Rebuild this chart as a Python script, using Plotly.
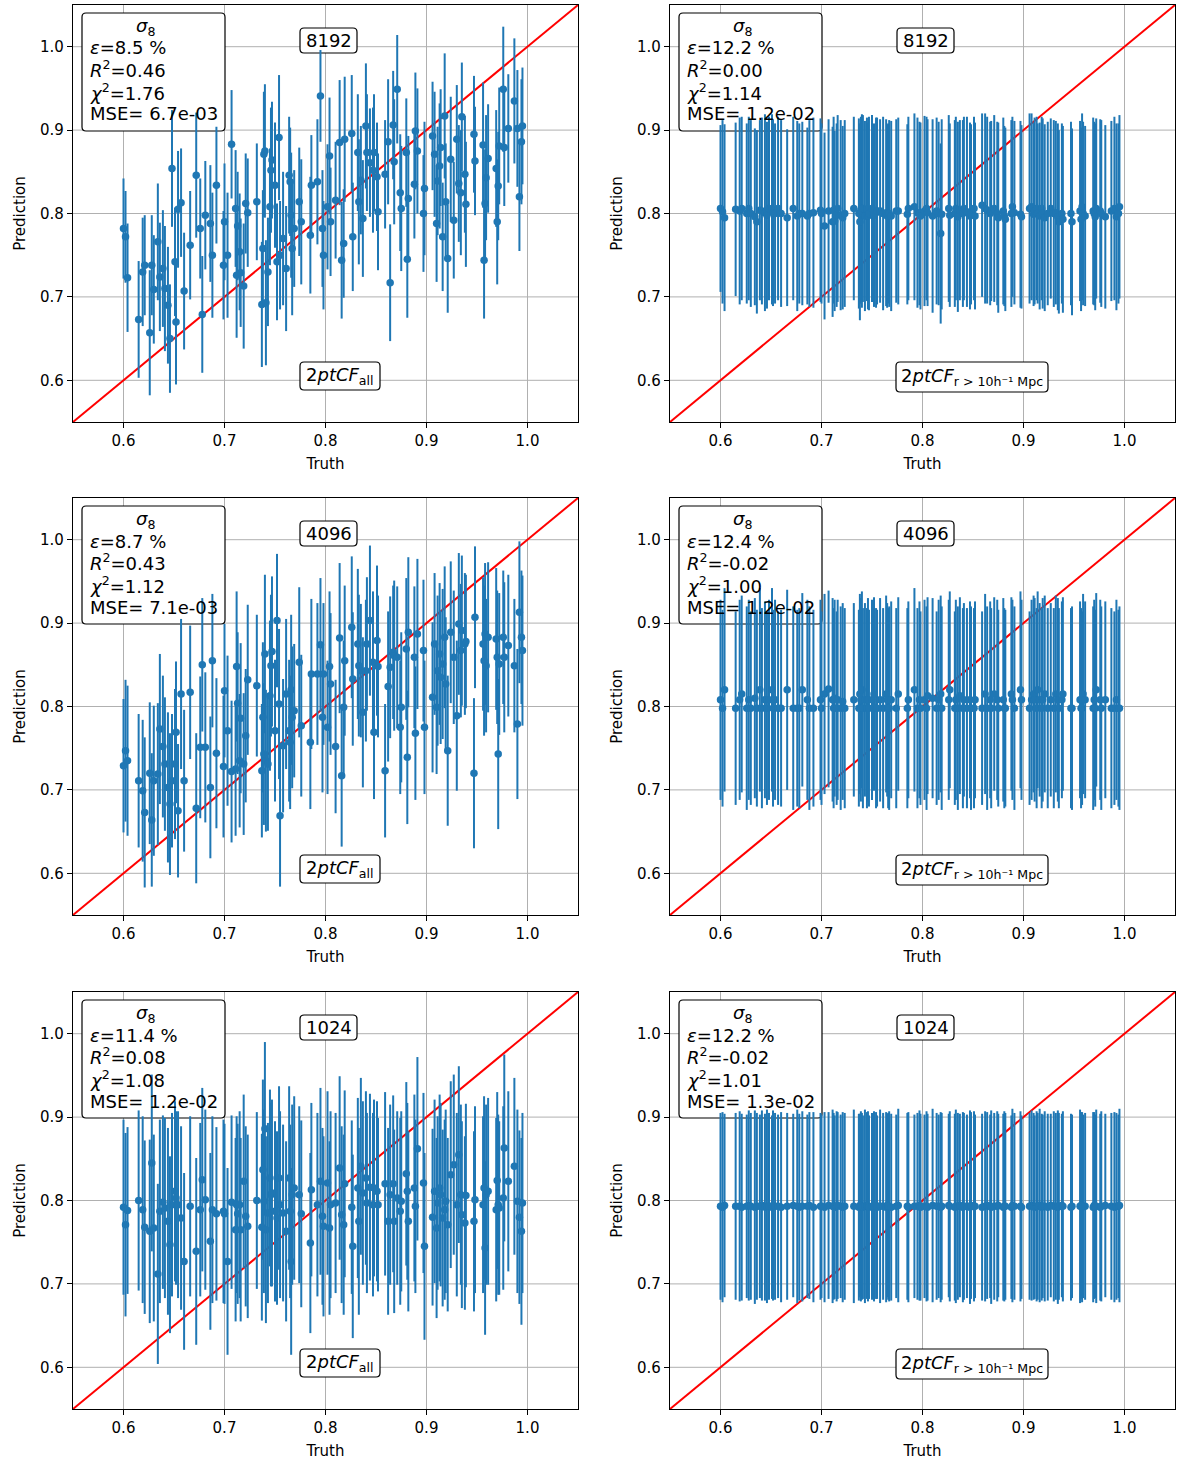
import plotly.graph_objects as go

# ---------------- data ----------------
truth = [
    0.600, 0.602, 0.604, 0.615, 0.619, 0.621, 0.626, 0.628, 0.630, 0.634,
    0.636, 0.639, 0.641, 0.644, 0.646, 0.648, 0.651, 0.652, 0.654, 0.657,
    0.660, 0.666, 0.672, 0.676, 0.678, 0.681, 0.686, 0.688, 0.692, 0.699,
    0.700, 0.703, 0.707, 0.711, 0.712, 0.713, 0.715, 0.716, 0.719, 0.721,
    0.723, 0.732, 0.737, 0.738, 0.739, 0.740, 0.741, 0.743, 0.745, 0.746,
    0.747, 0.750, 0.752, 0.754, 0.755, 0.758, 0.761, 0.764, 0.765, 0.766,
    0.767, 0.769, 0.774, 0.776, 0.785, 0.786, 0.792, 0.795, 0.797, 0.798,
    0.802, 0.804, 0.805, 0.810, 0.814, 0.816, 0.818, 0.819, 0.826, 0.827,
    0.832, 0.833, 0.835, 0.837, 0.840, 0.841, 0.844, 0.847, 0.848, 0.851,
    0.852, 0.859, 0.862, 0.864, 0.867, 0.868, 0.871, 0.874, 0.875, 0.880,
    0.881, 0.882, 0.888, 0.889, 0.891, 0.897, 0.898, 0.906, 0.908, 0.910,
    0.911, 0.913, 0.914, 0.916, 0.918, 0.919, 0.921, 0.924, 0.927, 0.930,
    0.932, 0.934, 0.935, 0.938, 0.939, 0.947, 0.948, 0.956, 0.957, 0.958,
    0.959, 0.961, 0.969, 0.970, 0.971, 0.972, 0.976, 0.977, 0.981, 0.987,
    0.990, 0.992, 0.994, 0.995,
]

pred_8192_all = [
    0.782, 0.772, 0.723, 0.673, 0.730, 0.738, 0.657, 0.738, 0.709, 0.766,
    0.724, 0.734, 0.710, 0.690, 0.650, 0.854, 0.742, 0.670, 0.805, 0.813,
    0.707, 0.762, 0.846, 0.782, 0.679, 0.798, 0.788, 0.750, 0.834, 0.738,
    0.790, 0.750, 0.883, 0.806, 0.726, 0.785, 0.754, 0.729, 0.713, 0.812,
    0.801, 0.814, 0.691, 0.758, 0.871, 0.875, 0.693, 0.730, 0.808, 0.852,
    0.864, 0.834, 0.742, 0.891, 0.750, 0.770, 0.734, 0.846, 0.838, 0.798,
    0.758, 0.782, 0.814, 0.790, 0.774, 0.834, 0.838, 0.941, 0.782, 0.750,
    0.808, 0.869, 0.790, 0.816, 0.885, 0.744, 0.764, 0.889, 0.896, 0.772,
    0.873, 0.814, 0.840, 0.794, 0.905, 0.873, 0.861, 0.852, 0.873, 0.844,
    0.802, 0.847, 0.886, 0.717, 0.906, 0.862, 0.949, 0.825, 0.806, 0.873,
    0.745, 0.818, 0.835, 0.899, 0.875, 0.800, 0.830, 0.893, 0.871, 0.788,
    0.839, 0.857, 0.879, 0.772, 0.917, 0.814, 0.746, 0.865, 0.792, 0.889,
    0.836, 0.825, 0.916, 0.847, 0.811, 0.895, 0.863, 0.882, 0.744, 0.812,
    0.843, 0.866, 0.854, 0.790, 0.833, 0.881, 0.949, 0.879, 0.902, 0.935,
    0.902, 0.820, 0.886, 0.905,
]
err_8192_all = [
    0.060, 0.055, 0.065, 0.070, 0.065, 0.060, 0.075, 0.060, 0.065, 0.070,
    0.065, 0.070, 0.075, 0.070, 0.065, 0.070, 0.065, 0.075, 0.070, 0.065,
    0.070, 0.065, 0.075, 0.060, 0.070, 0.065, 0.070, 0.075, 0.070, 0.065,
    0.070, 0.075, 0.065, 0.070, 0.075, 0.065, 0.070, 0.065, 0.075, 0.060,
    0.065, 0.070, 0.075, 0.070, 0.075, 0.080, 0.075, 0.065, 0.070, 0.075,
    0.070, 0.075, 0.070, 0.075, 0.065, 0.080, 0.075, 0.070, 0.065, 0.075,
    0.080, 0.070, 0.065, 0.075, 0.070, 0.060, 0.075, 0.055, 0.070, 0.065,
    0.075, 0.070, 0.065, 0.070, 0.075, 0.070, 0.065, 0.075, 0.070, 0.065,
    0.070, 0.075, 0.065, 0.070, 0.075, 0.070, 0.065, 0.075, 0.070, 0.065,
    0.070, 0.065, 0.075, 0.070, 0.065, 0.075, 0.065, 0.070, 0.075, 0.065,
    0.070, 0.075, 0.065, 0.070, 0.075, 0.070, 0.080, 0.065, 0.075, 0.070,
    0.065, 0.075, 0.070, 0.065, 0.075, 0.070, 0.065, 0.075, 0.070, 0.065,
    0.070, 0.075, 0.065, 0.070, 0.075, 0.070, 0.065, 0.075, 0.070, 0.065,
    0.075, 0.065, 0.070, 0.075, 0.065, 0.070, 0.075, 0.070, 0.065, 0.075,
    0.070, 0.065, 0.075, 0.070,
]

pred_8192_r10 = [
    0.806, 0.802, 0.795, 0.805, 0.803, 0.806, 0.800, 0.806, 0.800, 0.796,
    0.790, 0.804, 0.803, 0.801, 0.798, 0.806, 0.805, 0.801, 0.800, 0.806,
    0.800, 0.795, 0.806, 0.797, 0.800, 0.800, 0.797, 0.800, 0.801, 0.804,
    0.800, 0.785, 0.803, 0.790, 0.804, 0.791, 0.798, 0.806, 0.798, 0.795,
    0.800, 0.806, 0.800, 0.790, 0.804, 0.803, 0.806, 0.797, 0.805, 0.797,
    0.800, 0.806, 0.798, 0.801, 0.803, 0.803, 0.800, 0.801, 0.797, 0.800,
    0.800, 0.797, 0.803, 0.803, 0.799, 0.806, 0.808, 0.801, 0.800, 0.797,
    0.803, 0.806, 0.801, 0.797, 0.803, 0.800, 0.776, 0.799, 0.806, 0.798,
    0.800, 0.806, 0.796, 0.804, 0.800, 0.806, 0.802, 0.797, 0.799, 0.806,
    0.797, 0.810, 0.806, 0.804, 0.800, 0.803, 0.806, 0.800, 0.795, 0.803,
    0.797, 0.793, 0.800, 0.808, 0.801, 0.799, 0.796, 0.806, 0.808, 0.799,
    0.803, 0.806, 0.800, 0.797, 0.806, 0.800, 0.795, 0.800, 0.806, 0.800,
    0.801, 0.796, 0.790, 0.800, 0.793, 0.800, 0.790, 0.803, 0.793, 0.808,
    0.800, 0.797, 0.803, 0.800, 0.796, 0.806, 0.803, 0.800, 0.796, 0.803,
    0.806, 0.796, 0.800, 0.808,
]
err_8192_r10 = [
    0.100, 0.110, 0.112, 0.104, 0.112, 0.110, 0.108, 0.110, 0.112, 0.106,
    0.110, 0.108, 0.112, 0.118, 0.112, 0.110, 0.114, 0.112, 0.108, 0.110,
    0.112, 0.106, 0.110, 0.114, 0.108, 0.110, 0.106, 0.112, 0.114, 0.110,
    0.108, 0.112, 0.110, 0.114, 0.112, 0.108, 0.110, 0.112, 0.114, 0.110,
    0.112, 0.110, 0.114, 0.118, 0.112, 0.116, 0.112, 0.114, 0.110, 0.112,
    0.116, 0.112, 0.110, 0.114, 0.112, 0.110, 0.116, 0.112, 0.110, 0.108,
    0.112, 0.114, 0.110, 0.112, 0.108, 0.110, 0.112, 0.114, 0.110, 0.112,
    0.114, 0.110, 0.112, 0.116, 0.112, 0.110, 0.108, 0.114, 0.112, 0.110,
    0.112, 0.110, 0.114, 0.108, 0.112, 0.110, 0.114, 0.112, 0.108, 0.110,
    0.112, 0.110, 0.114, 0.112, 0.110, 0.108, 0.112, 0.110, 0.114, 0.112,
    0.108, 0.110, 0.112, 0.108, 0.110, 0.112, 0.110, 0.114, 0.112, 0.110,
    0.112, 0.110, 0.108, 0.112, 0.110, 0.114, 0.112, 0.110, 0.108, 0.112,
    0.110, 0.112, 0.110, 0.108, 0.112, 0.110, 0.112, 0.108, 0.110, 0.112,
    0.110, 0.108, 0.112, 0.110, 0.112, 0.108, 0.110, 0.112, 0.110, 0.108,
    0.110, 0.112, 0.108, 0.110,
]

pred_4096_all = [
    0.729, 0.747, 0.735, 0.711, 0.699, 0.673, 0.720, 0.664, 0.711, 0.719,
    0.773, 0.752, 0.731, 0.703, 0.683, 0.711, 0.731, 0.769, 0.675, 0.815,
    0.711, 0.817, 0.678, 0.751, 0.850, 0.751, 0.703, 0.855, 0.744, 0.728,
    0.819, 0.771, 0.722, 0.725, 0.848, 0.804, 0.735, 0.786, 0.731, 0.765,
    0.832, 0.825, 0.723, 0.787, 0.743, 0.863, 0.735, 0.731, 0.813, 0.849,
    0.866, 0.771, 0.903, 0.803, 0.669, 0.753, 0.815, 0.771, 0.757, 0.820,
    0.787, 0.795, 0.853, 0.777, 0.757, 0.839, 0.839, 0.874, 0.787, 0.839,
    0.775, 0.848, 0.827, 0.752, 0.882, 0.717, 0.799, 0.855, 0.895, 0.833,
    0.875, 0.849, 0.843, 0.793, 0.843, 0.875, 0.903, 0.853, 0.769, 0.879,
    0.848, 0.723, 0.824, 0.847, 0.865, 0.861, 0.859, 0.775, 0.799, 0.869,
    0.739, 0.889, 0.859, 0.768, 0.887, 0.867, 0.775, 0.811, 0.875, 0.799,
    0.843, 0.863, 0.835, 0.851, 0.883, 0.827, 0.747, 0.889, 0.859, 0.789,
    0.899, 0.867, 0.891, 0.875, 0.878, 0.720, 0.907, 0.875, 0.855, 0.887,
    0.849, 0.883, 0.881, 0.859, 0.743, 0.851, 0.883, 0.859, 0.873, 0.849,
    0.779, 0.913, 0.883, 0.867,
]
err_4096_all = [
    0.080, 0.085, 0.090, 0.080, 0.085, 0.090, 0.085, 0.080, 0.090, 0.085,
    0.090, 0.085, 0.080, 0.090, 0.085, 0.080, 0.090, 0.085, 0.080, 0.090,
    0.085, 0.080, 0.090, 0.085, 0.080, 0.090, 0.085, 0.080, 0.090, 0.085,
    0.080, 0.090, 0.085, 0.080, 0.090, 0.085, 0.080, 0.090, 0.085, 0.080,
    0.090, 0.085, 0.080, 0.090, 0.085, 0.095, 0.085, 0.080, 0.090, 0.085,
    0.090, 0.085, 0.080, 0.090, 0.085, 0.080, 0.090, 0.085, 0.080, 0.090,
    0.085, 0.080, 0.090, 0.085, 0.080, 0.090, 0.085, 0.080, 0.090, 0.085,
    0.080, 0.090, 0.085, 0.080, 0.090, 0.085, 0.080, 0.090, 0.085, 0.080,
    0.090, 0.085, 0.080, 0.090, 0.085, 0.080, 0.090, 0.085, 0.080, 0.090,
    0.085, 0.080, 0.090, 0.085, 0.080, 0.090, 0.085, 0.080, 0.090, 0.085,
    0.080, 0.090, 0.085, 0.080, 0.090, 0.085, 0.080, 0.090, 0.085, 0.080,
    0.090, 0.085, 0.080, 0.090, 0.085, 0.080, 0.090, 0.085, 0.080, 0.090,
    0.085, 0.080, 0.090, 0.085, 0.080, 0.090, 0.085, 0.080, 0.090, 0.085,
    0.080, 0.090, 0.085, 0.080, 0.090, 0.085, 0.080, 0.090, 0.085, 0.080,
    0.090, 0.085, 0.080, 0.090,
]

pred_4096_r10 = [
    0.808, 0.798, 0.820, 0.798, 0.808, 0.815, 0.798, 0.808, 0.798, 0.810,
    0.798, 0.820, 0.798, 0.808, 0.798, 0.808, 0.820, 0.798, 0.808, 0.798,
    0.798, 0.820, 0.798, 0.798, 0.798, 0.820, 0.808, 0.798, 0.798, 0.808,
    0.798, 0.815, 0.821, 0.808, 0.798, 0.810, 0.798, 0.808, 0.798, 0.806,
    0.798, 0.808, 0.798, 0.815, 0.808, 0.820, 0.798, 0.808, 0.798, 0.808,
    0.798, 0.808, 0.815, 0.798, 0.798, 0.808, 0.798, 0.815, 0.808, 0.798,
    0.798, 0.808, 0.798, 0.815, 0.798, 0.808, 0.820, 0.798, 0.808, 0.798,
    0.808, 0.798, 0.813, 0.810, 0.798, 0.808, 0.815, 0.798, 0.808, 0.820,
    0.798, 0.808, 0.798, 0.813, 0.798, 0.808, 0.798, 0.808, 0.798, 0.798,
    0.808, 0.798, 0.815, 0.798, 0.808, 0.798, 0.815, 0.808, 0.798, 0.808,
    0.798, 0.798, 0.815, 0.808, 0.798, 0.820, 0.808, 0.798, 0.808, 0.815,
    0.808, 0.798, 0.820, 0.808, 0.798, 0.808, 0.815, 0.798, 0.808, 0.798,
    0.815, 0.808, 0.798, 0.808, 0.815, 0.798, 0.798, 0.808, 0.798, 0.798,
    0.815, 0.808, 0.798, 0.808, 0.798, 0.820, 0.808, 0.798, 0.808, 0.798,
    0.798, 0.808, 0.798, 0.798,
]
err_4096_r10 = [
    0.120, 0.118, 0.122, 0.116, 0.120, 0.118, 0.122, 0.120, 0.116, 0.120,
    0.118, 0.122, 0.120, 0.118, 0.116, 0.120, 0.122, 0.118, 0.120, 0.116,
    0.118, 0.120, 0.122, 0.118, 0.120, 0.116, 0.120, 0.122, 0.118, 0.120,
    0.116, 0.120, 0.118, 0.122, 0.120, 0.118, 0.116, 0.120, 0.122, 0.118,
    0.120, 0.116, 0.118, 0.120, 0.122, 0.118, 0.120, 0.116, 0.120, 0.122,
    0.118, 0.120, 0.116, 0.120, 0.118, 0.122, 0.120, 0.118, 0.116, 0.120,
    0.122, 0.118, 0.120, 0.116, 0.120, 0.118, 0.122, 0.120, 0.118, 0.116,
    0.120, 0.122, 0.118, 0.120, 0.116, 0.120, 0.118, 0.122, 0.120, 0.118,
    0.116, 0.120, 0.122, 0.118, 0.120, 0.116, 0.120, 0.118, 0.122, 0.120,
    0.118, 0.116, 0.120, 0.122, 0.118, 0.120, 0.116, 0.120, 0.118, 0.122,
    0.120, 0.118, 0.116, 0.120, 0.122, 0.118, 0.120, 0.116, 0.120, 0.118,
    0.122, 0.120, 0.118, 0.116, 0.120, 0.122, 0.118, 0.120, 0.116, 0.120,
    0.118, 0.122, 0.120, 0.118, 0.116, 0.120, 0.122, 0.118, 0.120, 0.116,
    0.120, 0.118, 0.122, 0.120, 0.118, 0.116, 0.120, 0.122, 0.118, 0.120,
    0.116, 0.120, 0.118, 0.122,
]

pred_1024_all = [
    0.792, 0.771, 0.788, 0.800, 0.789, 0.768, 0.763, 0.845, 0.767, 0.712,
    0.787, 0.798, 0.791, 0.775, 0.747, 0.795, 0.811, 0.803, 0.795, 0.779,
    0.727, 0.793, 0.739, 0.789, 0.825, 0.801, 0.751, 0.789, 0.784, 0.787,
    0.784, 0.727, 0.798, 0.765, 0.795, 0.784, 0.795, 0.765, 0.823, 0.781,
    0.769, 0.800, 0.768, 0.837, 0.799, 0.886, 0.765, 0.785, 0.827, 0.807,
    0.809, 0.787, 0.779, 0.827, 0.795, 0.785, 0.763, 0.827, 0.787, 0.727,
    0.807, 0.815, 0.807, 0.784, 0.749, 0.813, 0.795, 0.823, 0.781, 0.769,
    0.821, 0.767, 0.795, 0.797, 0.839, 0.783, 0.771, 0.820, 0.792, 0.745,
    0.815, 0.775, 0.841, 0.809, 0.827, 0.797, 0.816, 0.795, 0.815, 0.811,
    0.795, 0.820, 0.775, 0.807, 0.820, 0.775, 0.803, 0.787, 0.799, 0.832,
    0.811, 0.775, 0.815, 0.793, 0.862, 0.821, 0.745, 0.780, 0.811, 0.767,
    0.797, 0.815, 0.807, 0.779, 0.789, 0.799, 0.771, 0.831, 0.843, 0.795,
    0.855, 0.807, 0.783, 0.773, 0.806, 0.775, 0.801, 0.795, 0.815, 0.743,
    0.807, 0.811, 0.789, 0.824, 0.795, 0.791, 0.803, 0.863, 0.823, 0.841,
    0.799, 0.780, 0.763, 0.797,
]
err_1024_all = [
    0.105, 0.110, 0.100, 0.108, 0.112, 0.104, 0.110, 0.106, 0.112, 0.108,
    0.110, 0.104, 0.108, 0.112, 0.106, 0.110, 0.108, 0.104, 0.112, 0.110,
    0.106, 0.108, 0.112, 0.104, 0.110, 0.108, 0.106, 0.112, 0.104, 0.110,
    0.108, 0.112, 0.104, 0.110, 0.106, 0.108, 0.112, 0.110, 0.104, 0.108,
    0.110, 0.106, 0.112, 0.108, 0.110, 0.104, 0.112, 0.108, 0.106, 0.110,
    0.112, 0.108, 0.104, 0.110, 0.112, 0.106, 0.108, 0.110, 0.104, 0.112,
    0.108, 0.110, 0.106, 0.112, 0.108, 0.104, 0.110, 0.112, 0.106, 0.108,
    0.110, 0.104, 0.112, 0.108, 0.110, 0.106, 0.108, 0.112, 0.104, 0.110,
    0.108, 0.112, 0.106, 0.110, 0.104, 0.108, 0.112, 0.110, 0.106, 0.108,
    0.104, 0.110, 0.112, 0.108, 0.106, 0.110, 0.104, 0.112, 0.108, 0.110,
    0.106, 0.108, 0.112, 0.104, 0.110, 0.108, 0.112, 0.106, 0.110, 0.108,
    0.104, 0.112, 0.110, 0.106, 0.108, 0.110, 0.104, 0.112, 0.108, 0.110,
    0.106, 0.108, 0.112, 0.104, 0.110, 0.108, 0.112, 0.106, 0.110, 0.104,
    0.108, 0.112, 0.110, 0.106, 0.108, 0.104, 0.110, 0.112, 0.108, 0.106,
    0.110, 0.104, 0.112, 0.108,
]

pred_1024_r10 = [
    0.793, 0.792, 0.794, 0.793, 0.793, 0.792, 0.793, 0.794, 0.793, 0.792,
    0.793, 0.793, 0.794, 0.792, 0.793, 0.793, 0.792, 0.794, 0.793, 0.793,
    0.792, 0.793, 0.794, 0.793, 0.792, 0.793, 0.793, 0.794, 0.792, 0.793,
    0.793, 0.792, 0.794, 0.793, 0.793, 0.792, 0.793, 0.794, 0.793, 0.792,
    0.793, 0.793, 0.792, 0.794, 0.793, 0.793, 0.792, 0.793, 0.794, 0.793,
    0.792, 0.793, 0.793, 0.794, 0.792, 0.793, 0.793, 0.792, 0.794, 0.793,
    0.793, 0.792, 0.793, 0.794, 0.793, 0.792, 0.793, 0.793, 0.794, 0.792,
    0.793, 0.793, 0.792, 0.794, 0.793, 0.793, 0.792, 0.793, 0.794, 0.793,
    0.792, 0.793, 0.793, 0.794, 0.792, 0.793, 0.793, 0.792, 0.794, 0.793,
    0.793, 0.792, 0.793, 0.794, 0.793, 0.792, 0.793, 0.793, 0.794, 0.792,
    0.793, 0.793, 0.792, 0.794, 0.793, 0.793, 0.792, 0.793, 0.794, 0.793,
    0.792, 0.793, 0.793, 0.794, 0.792, 0.793, 0.793, 0.792, 0.794, 0.793,
    0.793, 0.792, 0.793, 0.794, 0.793, 0.792, 0.793, 0.793, 0.794, 0.792,
    0.793, 0.793, 0.792, 0.794, 0.793, 0.793, 0.792, 0.793, 0.794, 0.793,
    0.792, 0.793, 0.793, 0.794,
]
err_1024_r10 = [
    0.112, 0.114, 0.110, 0.112, 0.114, 0.112, 0.110, 0.114, 0.112, 0.116,
    0.112, 0.110, 0.114, 0.112, 0.116, 0.112, 0.110, 0.114, 0.112, 0.110,
    0.114, 0.112, 0.110, 0.116, 0.112, 0.114, 0.110, 0.112, 0.114, 0.112,
    0.110, 0.114, 0.112, 0.116, 0.112, 0.110, 0.114, 0.112, 0.110, 0.114,
    0.112, 0.116, 0.112, 0.110, 0.114, 0.112, 0.110, 0.116, 0.112, 0.114,
    0.110, 0.112, 0.114, 0.112, 0.110, 0.116, 0.112, 0.114, 0.110, 0.112,
    0.114, 0.112, 0.110, 0.116, 0.112, 0.114, 0.110, 0.112, 0.114, 0.112,
    0.110, 0.114, 0.112, 0.116, 0.112, 0.110, 0.114, 0.112, 0.110, 0.114,
    0.112, 0.116, 0.112, 0.110, 0.114, 0.112, 0.110, 0.116, 0.112, 0.114,
    0.110, 0.112, 0.114, 0.112, 0.110, 0.116, 0.112, 0.114, 0.110, 0.112,
    0.114, 0.112, 0.110, 0.116, 0.112, 0.114, 0.110, 0.112, 0.114, 0.112,
    0.110, 0.114, 0.112, 0.116, 0.112, 0.110, 0.114, 0.112, 0.110, 0.114,
    0.112, 0.116, 0.112, 0.110, 0.114, 0.112, 0.110, 0.116, 0.112, 0.114,
    0.110, 0.112, 0.114, 0.112, 0.110, 0.116, 0.112, 0.114, 0.110, 0.112,
    0.114, 0.112, 0.110, 0.116,
]

# panel labels and statistics (row-major: 8192 all, 8192 r10, 4096 all, ...)
panel_ngal = ["8192", "8192", "4096", "4096", "1024", "1024"]
panel_kind = ["all", "r10", "all", "r10", "all", "r10"]
stat_eps = ["8.5", "12.2", "8.7", "12.4", "11.4", "12.2"]
stat_r2 = ["0.46", "0.00", "0.43", "-0.02", "0.08", "-0.02"]
stat_chi2 = ["1.76", "1.14", "1.12", "1.00", "1.08", "1.01"]
stat_mse = ["6.7e-03", "1.2e-02", "7.1e-03", "1.2e-02", "1.2e-02", "1.3e-02"]

tick_vals = [0.6, 0.7, 0.8, 0.9, 1.0]
tick_text = ["0.6", "0.7", "0.8", "0.9", "1.0"]
axis_range = [0.55, 1.05]

preds = [pred_8192_all, pred_8192_r10, pred_4096_all, pred_4096_r10, pred_1024_all, pred_1024_r10]
errs = [err_8192_all, err_8192_r10, err_4096_all, err_4096_r10, err_1024_all, err_1024_r10]

# ---------------- layout geometry ----------------
W, H = 1177, 1463
col_px = [(73, 578), (670, 1175)]
row_px = [(5, 422), (498, 915), (992, 1409)]
PW, PH = 505, 417
FONT = "DejaVu Sans"
BLUE = "#1f77b4"
GRID = "#b0b0b0"

fig = go.Figure()
layout = dict(
    width=W, height=H,
    margin=dict(l=0, r=0, t=0, b=0, autoexpand=False),
    paper_bgcolor="white", plot_bgcolor="white",
    showlegend=False,
    font=dict(family=FONT, size=15, color="black"),
)
shapes = []
annotations = []


def rrect(xref, yref, x0, y0, x1, y1, r=4):
    # pixel offsets inside the plot area -> axis-domain fractions
    def X(v):
        return v / PW

    def Y(v):
        return 1 - v / PH
    p = (f"M {X(x0 + r)},{Y(y0)} L {X(x1 - r)},{Y(y0)} Q {X(x1)},{Y(y0)} {X(x1)},{Y(y0 + r)} "
         f"L {X(x1)},{Y(y1 - r)} Q {X(x1)},{Y(y1)} {X(x1 - r)},{Y(y1)} "
         f"L {X(x0 + r)},{Y(y1)} Q {X(x0)},{Y(y1)} {X(x0)},{Y(y1 - r)} "
         f"L {X(x0)},{Y(y0 + r)} Q {X(x0)},{Y(y0)} {X(x0 + r)},{Y(y0)} Z")
    return dict(type="path", path=p, xref=xref, yref=yref, layer="below",
                line=dict(color="black", width=1.2), fillcolor="white")


for i in range(6):
    r, c = divmod(i, 2)
    k = "" if i == 0 else str(i + 1)
    xa, ya = "x" + k, "y" + k
    x0p, x1p = col_px[c]
    y0p, y1p = row_px[r]
    common = dict(
        range=axis_range, tickvals=tick_vals, ticktext=tick_text,
        showgrid=False,
        showline=True, linecolor="black", linewidth=1.2, mirror=True,
        ticks="outside", ticklen=5, tickwidth=1.2, tickcolor="black",
        tickfont=dict(family=FONT, size=15, color="black"),
        zeroline=False, automargin=False,
    )
    layout["xaxis" + k] = dict(
        common, domain=[x0p / W, x1p / W], anchor=ya,
        title=dict(text="Truth", font=dict(family=FONT, size=15), standoff=9),
    )
    layout["yaxis" + k] = dict(
        common, domain=[1 - y1p / H, 1 - y0p / H], anchor=xa,
        title=dict(text="Prediction", font=dict(family=FONT, size=15), standoff=10),
    )

    xd, yd = xa + " domain", ya + " domain"
    # grid lines (drawn as shapes under the boxes)
    for tv in tick_vals:
        shapes.append(dict(type="line", xref=xa, yref=yd, x0=tv, x1=tv, y0=0, y1=1,
                           layer="below", line=dict(color=GRID, width=1)))
        shapes.append(dict(type="line", xref=xd, yref=ya, x0=0, x1=1, y0=tv, y1=tv,
                           layer="below", line=dict(color=GRID, width=1)))

    # identity line
    fig.add_trace(go.Scatter(
        x=axis_range, y=axis_range, xaxis=xa, yaxis=ya, mode="lines",
        line=dict(color="red", width=2), hoverinfo="skip",
    ))
    # predictions with error bars
    fig.add_trace(go.Scatter(
        x=truth, y=preds[i], xaxis=xa, yaxis=ya, mode="markers",
        marker=dict(color=BLUE, size=7.5),
        error_y=dict(type="data", array=errs[i], visible=True,
                     color=BLUE, thickness=2, width=0),
    ))

    # stats box
    shapes.append(rrect(xd, yd, 9, 8, 152, 126))
    annotations.append(dict(
        xref=xd, yref=yd, x=72 / PW, y=1 - 22 / PH, xanchor="center", yanchor="middle",
        text="<i>σ</i><sub>8</sub>", showarrow=False, font=dict(family=FONT, size=18)))
    lines = [
        (43, f"<i>ε</i>={stat_eps[i]} %"),
        (64, f"<i>R</i><sup>2</sup>={stat_r2[i]}"),
        (87, f"<i>χ</i><sup>2</sup>={stat_chi2[i]}"),
        (109, f"MSE= {stat_mse[i]}"),
    ]
    for yy, t in lines:
        annotations.append(dict(
            xref=xd, yref=yd, x=15 / PW, y=1 - yy / PH, xanchor="left", yanchor="middle",
            text=t, showarrow=False, font=dict(family=FONT, size=18)))

    # sample-size box
    shapes.append(rrect(xd, yd, 227, 23, 284, 48))
    annotations.append(dict(
        xref=xd, yref=yd, x=255.5 / PW, y=1 - 35.5 / PH, xanchor="center", yanchor="middle",
        text=panel_ngal[i], showarrow=False, font=dict(family=FONT, size=18)))

    # statistic label box
    if panel_kind[i] == "all":
        shapes.append(rrect(xd, yd, 227, 357, 307, 385))
        lab = "2<i>ptCF</i><sub>all</sub>"
        cx, cy = 267, 371
    else:
        shapes.append(rrect(xd, yd, 226, 357, 378, 387))
        lab = "2<i>ptCF</i><sub>r &gt; 10h⁻¹ Mpc</sub>"
        cx, cy = 302, 372
    annotations.append(dict(
        xref=xd, yref=yd, x=cx / PW, y=1 - cy / PH, xanchor="center", yanchor="middle",
        text=lab, showarrow=False, font=dict(family=FONT, size=18)))

layout["shapes"] = shapes
layout["annotations"] = annotations
fig.update_layout(**layout)
fig.write_html("out.html", config={"displayModeBar": False},
               post_script="document.body.style.margin='0';")
